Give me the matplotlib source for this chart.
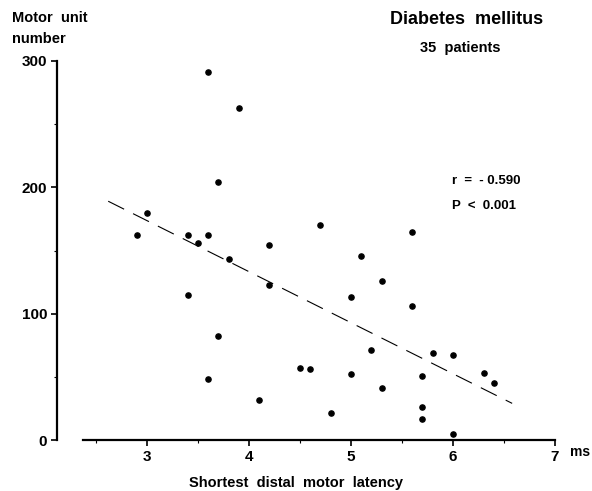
import numpy as np
import matplotlib
matplotlib.use("Agg")
import matplotlib.pyplot as plt

# latency (ms) and motor unit number
latency = [2.9, 3.0, 3.4, 3.5, 3.6, 3.6, 3.9, 3.7, 3.8, 3.4, 3.7, 3.6,
           4.1, 4.2, 4.2, 4.7, 4.5, 4.6, 4.8, 5.0, 5.1, 5.3, 5.6, 5.6,
           5.2, 5.8, 6.0, 5.0, 5.7, 6.3, 6.4, 5.3, 5.7, 5.7, 6.0]
mun = [162, 180, 162, 156, 162, 291, 263, 204, 143, 115, 82, 48,
       32, 154, 123, 170, 57, 56, 21, 113, 146, 126, 106, 165,
       71, 69, 67, 52, 51, 53, 45, 41, 26, 17, 5]

# regression line end points
fit_x = [2.62, 6.58]
fit_y = [189, 29]

x_ticks = [3, 4, 5, 6, 7]
y_ticks = [0, 100, 200, 300]

plt.rcParams['font.family'] = ['Liberation Sans', 'DejaVu Sans']
plt.rcParams['font.weight'] = 'bold'

W, H = 592, 491
fig = plt.figure(figsize=(W / 100, H / 100), dpi=100)


def fx(px):
    return px / W


def fy(py):
    return 1 - py / H


ax = fig.add_axes([fx(57), fy(440), (555 - 57) / W, (440 - 61) / H])
ax.set_xlim(2.118, 7.0)
ax.set_ylim(0, 300)

ax.scatter(latency, mun, s=14, color='black', clip_on=False, zorder=3)
line, = ax.plot(fit_x, fit_y, color='black', lw=0.8)
line.set_dashes((16, 9))

for s in ['top', 'right']:
    ax.spines[s].set_visible(False)
ax.spines['left'].set_linewidth(1.6)
ax.spines['bottom'].set_linewidth(1.6)
ax.spines['left'].set_bounds(0, 300)
ax.spines['bottom'].set_bounds(2.37, 7.0)

ax.set_xticks(x_ticks)
ax.set_xticks([2.5, 3.5, 4.5, 5.5, 6.5], minor=True)
ax.set_yticks(y_ticks)
ax.set_yticks([50, 150, 250], minor=True)
ax.tick_params(axis='both', which='major', direction='out', length=4,
               width=1.2, labelsize=11, pad=3)
ax.tick_params(axis='both', which='minor', direction='out', length=2,
               width=0.8)
for lab in ax.get_xticklabels() + ax.get_yticklabels():
    lab.set_fontweight('bold')

fig.text(fx(12), fy(18), 'Motor  unit', fontsize=10.5, va='center', ha='left')
fig.text(fx(12), fy(39), 'number', fontsize=10.5, va='center', ha='left')
fig.text(fx(467), fy(20), 'Diabetes  mellitus', fontsize=13, va='center', ha='center')
fig.text(fx(460), fy(48), '35  patients', fontsize=10.5, va='center', ha='center')
fig.text(fx(452), fy(181), 'r  =  - 0.590', fontsize=9.5, va='center', ha='left')
fig.text(fx(452), fy(206), 'P  <  0.001', fontsize=9.5, va='center', ha='left')
fig.text(fx(570), fy(452), 'ms', fontsize=10, va='center', ha='left')
fig.text(fx(296), fy(476), 'Shortest  distal  motor  latency', fontsize=10.5,
         va='top', ha='center')

fig.savefig('out.png', dpi=100)
